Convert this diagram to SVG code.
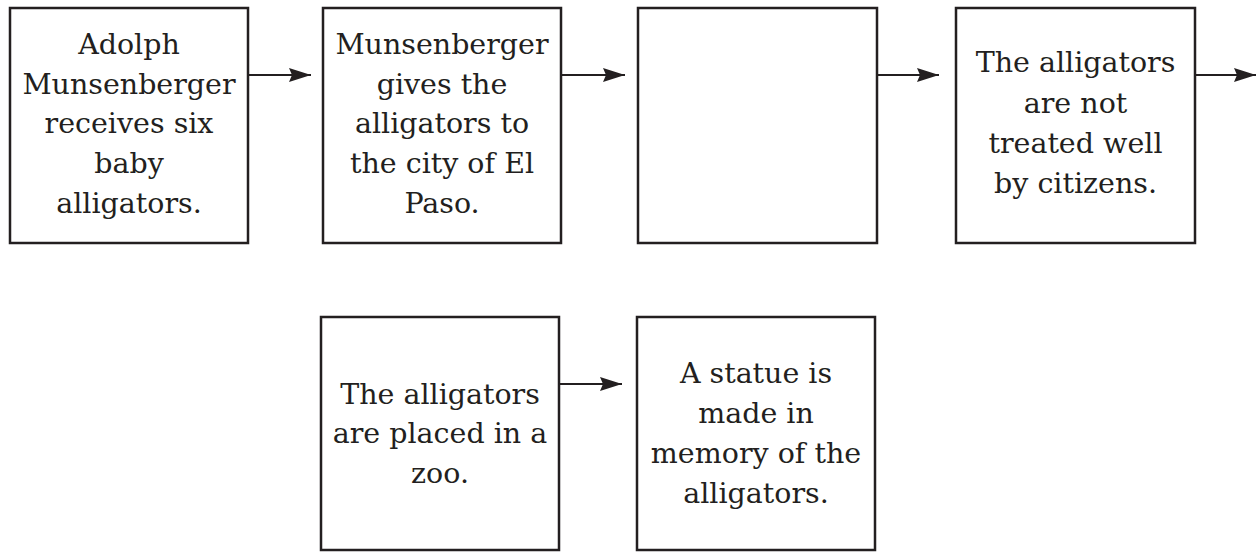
<svg xmlns="http://www.w3.org/2000/svg" width="1256" height="552" viewBox="0 0 1256 552">
<style>
.box{fill:#fff;stroke:#231f20;stroke-width:2.5}
.t{font-family:"DejaVu Serif","Liberation Serif",serif;font-size:28.5px;fill:#231f20;text-anchor:middle}
.c{stroke:#231f20;stroke-width:2.2;fill:none}
</style>
<defs>
<marker id="ah" markerWidth="24" markerHeight="16" refX="22" refY="7" orient="auto" markerUnits="userSpaceOnUse">
<path d="M0,0 L22,7 L0,14 L3,7 Z" fill="#231f20"/>
</marker>
</defs>
<rect width="1256" height="552" fill="#fff"/>
<g id="n1"><rect class="box" x="10" y="8" width="238" height="235"/>
<text class="t"><tspan x="129" y="54">Adolph</tspan><tspan x="129" y="94">Munsenberger</tspan><tspan x="129" y="133">receives six</tspan><tspan x="129" y="173">baby</tspan><tspan x="129" y="213">alligators.</tspan></text></g>
<g id="n2"><rect class="box" x="323" y="8" width="238" height="235"/>
<text class="t"><tspan x="442" y="54">Munsenberger</tspan><tspan x="442" y="94">gives the</tspan><tspan x="442" y="133">alligators to</tspan><tspan x="442" y="173">the city of El</tspan><tspan x="442" y="213">Paso.</tspan></text></g>
<g id="n3"><rect class="box" x="638" y="8" width="239" height="235"/></g>
<g id="n4"><rect class="box" x="956" y="8" width="239" height="235"/>
<text class="t"><tspan x="1075.5" y="72">The alligators</tspan><tspan x="1075.5" y="113">are not</tspan><tspan x="1075.5" y="153">treated well</tspan><tspan x="1075.5" y="193">by citizens.</tspan></text></g>
<g id="n5"><rect class="box" x="321" y="317" width="238" height="233"/>
<text class="t"><tspan x="440" y="404">The alligators</tspan><tspan x="440" y="443">are placed in a</tspan><tspan x="440" y="483">zoo.</tspan></text></g>
<g id="n6"><rect class="box" x="637" y="317" width="238" height="233"/>
<text class="t"><tspan x="756" y="383">A statue is</tspan><tspan x="756" y="423">made in</tspan><tspan x="756" y="463">memory of the</tspan><tspan x="756" y="503">alligators.</tspan></text></g>
<g id="connectors">
<line class="c" x1="248" y1="75" x2="311" y2="75" marker-end="url(#ah)"/>
<line class="c" x1="561" y1="75" x2="625" y2="75" marker-end="url(#ah)"/>
<line class="c" x1="877" y1="75" x2="939" y2="75" marker-end="url(#ah)"/>
<line class="c" x1="1195" y1="75" x2="1256" y2="75" marker-end="url(#ah)"/>
<line class="c" x1="559" y1="384" x2="622" y2="384" marker-end="url(#ah)"/>
</g>
</svg>
